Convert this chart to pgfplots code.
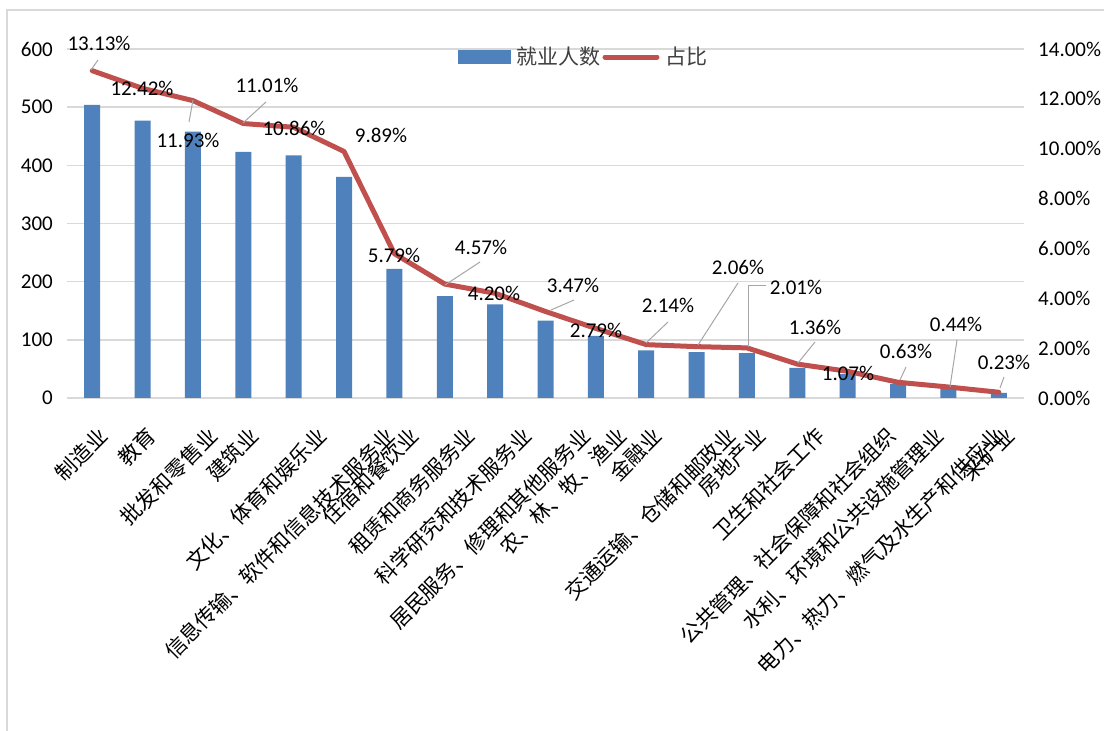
\documentclass[border=0pt]{standalone}
\usepackage{fontspec}
\setmainfont{Carlito}
\newfontfamily\cjk{Noto Sans CJK SC}
\usepackage{pgfplots}
\pgfplotsset{compat=1.18}
\definecolor{barblue}{HTML}{4F81BD}
\definecolor{linered}{HTML}{C0504D}
\definecolor{gridgray}{HTML}{D9D9D9}
\definecolor{leadgray}{HTML}{A6A6A6}
\newlength\lw \newlength\lk
\newcommand\XL[1]{\settowidth\lw{\cjk #1}\lk=0.099\lw\advance\lk by -2.83bp\raisebox{-\lk}[\height][\depth]{\cjk #1\kern-\lk}}
\begin{document}
\fontsize{21bp}{25bp}\selectfont
\begin{tikzpicture}
\fill[white] (0,0) rectangle (1104bp,731bp);
\draw[gridgray, line width=1.5bp] (7bp,0bp) -- (7bp,721bp) -- (1104bp,721bp);
\begin{axis}[
  at={(67bp,333bp)}, anchor=south west,
  scale only axis, width=957bp, height=349bp,
  xmin=-0.5, xmax=18.5, ymin=0, ymax=600,
  ytick={0,100,...,600},
  xtick={0,...,18},
  xticklabels={\XL{制造业},\XL{教育},\XL{批发和零售业},\XL{建筑业},\XL{文化、体育和娱乐业},\XL{信息传输、软件和信息技术服务业},\XL{住宿和餐饮业},\XL{租赁和商务服务业},\XL{科学研究和技术服务业},\XL{居民服务、修理和其他服务业},\XL{农、林、牧、渔业},\XL{金融业},\XL{交通运输、仓储和邮政业},\XL{房地产业},\XL{卫生和社会工作},\XL{公共管理、社会保障和社会组织},\XL{水利、环境和公共设施管理业},\XL{电力、热力、燃气及水生产和供应业},\XL{采矿业}},
  xticklabel style={yshift=-27bp, rotate=45, anchor=north east, inner sep=0pt},
  yticklabel style={inner sep=0pt, xshift=-14bp, anchor=east},
  /pgf/number format/assume math mode=true,
  major tick length=0pt,
  axis line style={draw=none},
  ymajorgrids, grid style={gridgray, line width=1.5bp},
  ybar, bar width=16bp,
]
\addplot[fill=barblue, draw=none] coordinates {
(0,504) (1,477) (2,458) (3,423) (4,417) (5,380) (6,222) (7,175) (8,161) (9,133)
(10,107) (11,82) (12,79) (13,77) (14,52) (15,41) (16,24) (17,17) (18,9)};
\end{axis}
\begin{axis}[
  at={(67bp,333bp)}, anchor=south west,
  scale only axis, width=957bp, height=349bp,
  xmin=-0.5, xmax=18.5, ymin=0, ymax=14,
  hide x axis, axis y line*=right,
  ytick={0,2,...,14},
  yticklabel={\pgfmathprintnumber[fixed,fixed zerofill,precision=2]{\tick}\%},
  yticklabel style={inner sep=0pt, xshift=14bp, anchor=west},
  /pgf/number format/assume math mode=true,
  major tick length=0pt,
  axis line style={draw=none},
  legend style={at={(0.540,0.977)}, anchor=center, draw=none, fill=none,
    legend columns=2, text=black!75, font=\fontsize{21bp}{25bp}\selectfont,
    /tikz/every odd column/.append style={column sep=4bp}},
  legend cell align=left,
]
\addlegendimage{legend image code/.code={\fill[barblue] (0bp,-6.5bp) rectangle (52bp,6.5bp);}}
\addlegendentry{\cjk 就业人数}
\addplot[linered, line width=5bp, line join=round, line cap=round,
  legend image code/.code={\draw[linered, line width=5bp, line cap=round] (2.5bp,0bp) -- (54.5bp,0bp);}]
coordinates {
(0,13.13) (1,12.42) (2,11.93) (3,11.01) (4,10.86) (5,9.89) (6,5.79) (7,4.57) (8,4.20) (9,3.47)
(10,2.79) (11,2.14) (12,2.06) (13,2.01) (14,1.36) (15,1.07) (16,0.63) (17,0.44) (18,0.23)};
\addlegendentry{\cjk 占比}
\end{axis}
\begin{scope}[x=1bp, y=-1bp, shift={(0bp,731bp)}]
\tikzset{lab/.style={inner sep=0pt, text=black}, ld/.style={leadgray, line width=1bp}}
\node[lab] at (99,43) {13.13\%};
\node[lab] at (142,88) {12.42\%};
\node[lab] at (188,140) {11.93\%};
\node[lab] at (267,85) {11.01\%};
\node[lab] at (294,128) {10.86\%};
\node[lab] at (381,135) {9.89\%};
\node[lab] at (394,255) {5.79\%};
\node[lab] at (481,247) {4.57\%};
\node[lab] at (494,293) {4.20\%};
\node[lab] at (573,285) {3.47\%};
\node[lab] at (596,330) {2.79\%};
\node[lab] at (668,305) {2.14\%};
\node[lab] at (738,267) {2.06\%};
\node[lab] at (796,287) {2.01\%};
\node[lab] at (815,327) {1.36\%};
\node[lab] at (848,373) {1.07\%};
\node[lab] at (906,351) {0.63\%};
\node[lab] at (956,324) {0.44\%};
\node[lab] at (1004,362) {0.23\%};
\draw[ld] (98,60) -- (91,70);
\draw[ld] (189,122) -- (193,100);
\draw[ld] (266,102) -- (243,123);
\draw[ld] (480,262) -- (445,285);
\draw[ld] (574,300) -- (551,310);
\draw[ld] (668,322) -- (646,343);
\draw[ld] (738,283) -- (698,345);
\draw[ld] (766,286) -- (748,286) -- (748,347);
\draw[ld] (815,342) -- (798,363);
\draw[ld] (906,367) -- (900,380);
\draw[ld] (957,340) -- (950,387);
\draw[ld] (1004,377) -- (1000,388);
\end{scope}
\pgfresetboundingbox
\path[use as bounding box] (0,0) rectangle (1104bp,731bp);
\end{tikzpicture}
\end{document}
